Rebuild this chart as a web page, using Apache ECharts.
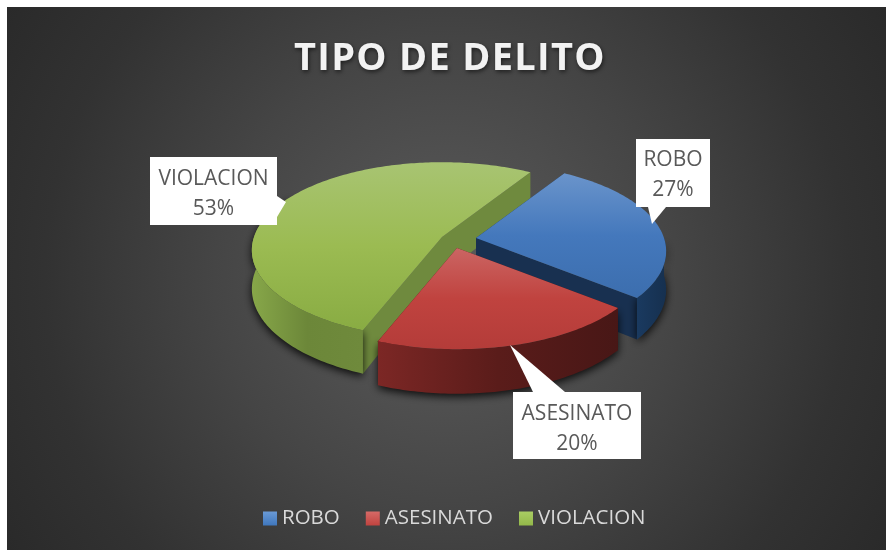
<!DOCTYPE html>
<html><head><meta charset="utf-8">
<style>html,body{margin:0;padding:0;background:#fff}#main{width:886px;height:550px}</style>
<script src="https://cdn.jsdelivr.net/npm/echarts@6/dist/echarts.min.js"></script>
</head><body><div id="main"></div>
<script>
const categories = ['ROBO', 'ASESINATO', 'VIOLACION'];
const values = [27, 20, 53];
const chartTitle = 'TIPO DE DELITO';

// Look of the pseudo-3D pie (perspective of a tilted disc)
const START_ANGLE = 32, RX = 188, RY = 86, PERSP = 0.15, DEPTH = 44;
const centers = [[476, 238], [457, 248], [442, 237]];
const LG = (stops, horizontal) => new echarts.graphic.LinearGradient(0, 0, horizontal ? 1 : 0, horizontal ? 0 : 1,
  stops.map((c, i) => ({offset: i / (stops.length - 1), color: c})));
const topFills = [['#6a94cb', '#4478bc', '#3c6eae'], ['#cb6563', '#c0433f', '#b43c39'], ['#a8c472', '#9bbb52', '#89ac43']];
const wallFills = [['#1a3a60', '#16304f'], ['#7c2725', '#5a1c1a', '#481716'], ['#87a749', '#6c8739', '#6f8a3c']];
const faceFills = ['#183050', '#4a1716', '#6f8a3e'];
const legendFills = [['#6a9ad6', '#3f77bd'], ['#d66a67', '#c0433f'], ['#a9cd63', '#93b84a']];
const callouts = [
  {box: [636, 139, 74, 68], wedge: [[648, 207], [652, 224], [666, 207]], shift: 2.5},
  {box: [513, 392, 128, 67], wedge: [[533, 392], [510, 345], [565, 392]], shift: 3.5},
  {box: [150, 157, 127, 68], wedge: [[277, 196], [286, 202], [277, 217]], shift: 3.5}
];

const total = values.reduce((a, b) => a + b, 0);
function point(c, deg) {
  const a = deg * Math.PI / 180, u = Math.sin(a), v = Math.cos(a), w = 1 + PERSP * v;
  return [c[0] + RX * u / w, c[1] - RY * v / w];
}
const down = p => [p[0], p[1] + DEPTH + (p[1] - 340) * 0.06];

function renderSlice(idx) {
  return function () {
    const before = values.slice(0, idx).reduce((a, b) => a + b, 0);
    const a0 = START_ANGLE + before / total * 360, a1 = a0 + values[idx] / total * 360;
    const c = centers[idx], arc = [];
    for (let a = a0; a < a1; a += 1) arc.push(point(c, a));
    arc.push(point(c, a1));
    const first = arc[0], last = arc[arc.length - 1];
    const children = [];
    const poly = (pts, fill, extra) => children.push({type: 'polygon', shape: {points: pts}, style: Object.assign({fill}, extra || {})});
    // radial cut faces
    poly([c, first, down(first), down(c)], faceFills[idx]);
    poly([c, last, down(last), down(c)], faceFills[idx]);
    // outer wall with soft drop shadow
    const front = [];
    for (let a = Math.max(a0, 90); a < Math.min(a1, 300); a += 1) front.push(point(c, a));
    front.push(point(c, Math.min(a1, 300)));
    poly(front.concat(front.slice().reverse().map(down)), LG(wallFills[idx], true),
      {shadowBlur: 9, shadowColor: 'rgba(0,0,0,0.85)', shadowOffsetY: 3});
    // top surface
    poly([c].concat(arc), LG(topFills[idx]));
    // callout
    const cb = callouts[idx], b = cb.box;
    children.push({type: 'rect', shape: {x: b[0], y: b[1], width: b[2], height: b[3]}, style: {fill: '#fff'}, z2: 5});
    children.push({type: 'polygon', shape: {points: cb.wedge}, style: {fill: '#fff'}, z2: 5});
    children.push({type: 'text', z2: 6, style: {
      x: b[0] + b[2] / 2, y: b[1] + b[3] / 2 + cb.shift, align: 'center', verticalAlign: 'middle',
      text: categories[idx] + '\n' + Math.round(values[idx] / total * 100) + '%',
      fill: '#595959', font: '21px "Open Sans"', lineHeight: 30
    }});
    return {type: 'group', children};
  };
}

// wide letter spacing of the title
const origFill = CanvasRenderingContext2D.prototype.fillText;
CanvasRenderingContext2D.prototype.fillText = function (t, x, y, m) {
  if (t === chartTitle) {
    const keep = this.letterSpacing; this.letterSpacing = '1.3px';
    origFill.call(this, t, x, y); this.letterSpacing = keep; return;
  }
  return m === undefined ? origFill.call(this, t, x, y) : origFill.call(this, t, x, y, m);
};

const chart = echarts.init(document.getElementById('main'), null, {renderer: 'canvas'});
// paint order: back slice first
const order = [2, 0, 1];
chart.setOption({
  animation: false,
  backgroundColor: '#ffffff',
  title: {
    text: chartTitle, left: 289, top: 35,
    textStyle: {fontFamily: 'Open Sans', fontWeight: 'bold', fontSize: 38, color: '#f2f2f2',
      textShadowColor: 'rgba(0,0,0,0.55)', textShadowBlur: 4, textShadowOffsetY: 2, textShadowOffsetX: 1}
  },
  legend: {
    data: categories, left: 258, top: 503, itemWidth: 14, itemHeight: 14, itemGap: 26, icon: 'rect',
    textStyle: {color: '#d9d9d9', fontFamily: 'Open Sans', fontSize: 20.5}
  },
  graphic: [{type: 'rect', z: -100, silent: true, shape: {x: 7, y: 7, width: 879, height: 543},
    style: {fill: new echarts.graphic.RadialGradient(0.5, 0.5, 0.95, [
      {offset: 0, color: '#5c5c5c'}, {offset: 0.45, color: '#454545'}, {offset: 0.78, color: '#323232'}, {offset: 1, color: '#2a2a2a'}])}}],
  series: order.map(i => ({
    type: 'custom', name: categories[i], coordinateSystem: 'none', silent: true,
    itemStyle: {color: LG(legendFills[i])},
    data: [[values[i]]], renderItem: renderSlice(i)
  }))
});
</script></body></html>
